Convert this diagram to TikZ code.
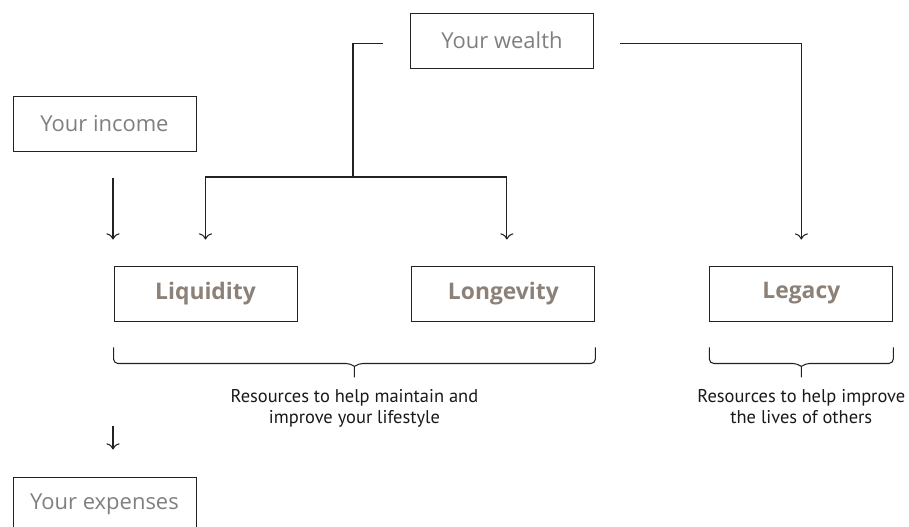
\documentclass[tikz,border=0pt]{standalone}
\usepackage{xcolor}
\usepackage{fontspec}
\usepackage{tikz}
\usetikzlibrary{arrows.meta, positioning, calc}
\newfontfamily\boxfont{Open Sans}
\newfontfamily\capfont{PT Sans}
\definecolor{labelgray}{HTML}{7F7F7F}
\definecolor{taupe}{HTML}{8C8178}
\definecolor{inkgray}{HTML}{222222}
\tikzstyle{plainbox} = [rectangle, minimum width=3.66cm, minimum height=1.1cm, inner sep=0pt, text centered, draw=inkgray, line width=0.55pt, font=\boxfont\fontsize{12.5}{14}\selectfont, text=labelgray]
\tikzstyle{keybox} = [plainbox, font=\boxfont\bfseries\fontsize{13}{15}\selectfont, text=taupe]
\tikzstyle{caption} = [align=center, inner sep=0pt, font=\capfont\fontsize{10.5}{11.5}\selectfont, text=black!90]
\tikzstyle{line} = [draw=inkgray, line width=0.6pt]
\tikzstyle{arrow} = [line, -{To[length=3.5pt, width=7.5pt]}]
\tikzstyle{bracket} = [line, rounded corners=2.5pt]

\begin{document}
\begin{tikzpicture}[x=0.02cm, y=-0.02cm]
            \useasboundingbox (0,0) rectangle (909,527);
            \clip (0,0) rectangle (909,527);

            \node[plainbox] (wealth) at (502,40.5) {Your wealth};
            \node[plainbox] (income) at (104.5,123.5) {Your income};

            \node[keybox] (liq) at (205.5,293.5) {Liquidity};
            \node[keybox, right=2.28cm of liq] (lon) {Longevity};
            \node[keybox, right=2.28cm of lon] (leg) {Legacy};

            \node[plainbox] (exp) at (104.5,504.5) {Your expenses};

            % wealth splits to the three pillars
            \coordinate (wl) at ($(wealth.west)+(-27,3)$);
            \coordinate (wr) at ($(wealth.east)+(26,3)$);
            \coordinate (split) at (353,177);
            \draw[line] (wl) -| (split);
            \draw[arrow, shorten >=0.52cm] (split) -| (liq.north);
            \draw[arrow, shorten >=0.52cm] (split) -| ([xshift=3.5*0.02cm]lon.north);
            \draw[arrow, shorten >=0.52cm] (wr) -| (leg.north);

            % income and expenses
            \coordinate (incout) at (113,178);
            \draw[arrow, shorten >=0.52cm] (incout) -- (incout |- liq.north);
            \coordinate (expin) at (113,426);
            \draw[arrow, shorten >=0.54cm] (expin) -- (expin |- exp.north);

            % brackets
            \coordinate (b1l) at ($(liq.south west)+(0,26)$);
            \coordinate (b1r) at ($(lon.south east)+(0,26)$);
            \coordinate (b1m) at ($(b1l)!0.5!(b1r)+(0,16)$);
            \draw[bracket] (b1l) |- ($(b1m)+(-4,0)$) [sharp corners] -- ($(b1m)+(0,3)$) -- ++(0,11);
            \draw[bracket] (b1r) |- ($(b1m)+(4,0)$) [sharp corners] -- ($(b1m)+(0,3)$);

            \coordinate (b2l) at ($(leg.south west)+(0,26)$);
            \coordinate (b2r) at ($(leg.south east)+(0,26)$);
            \coordinate (b2m) at ($(b2l)!0.5!(b2r)+(0,16)$);
            \draw[bracket] (b2l) |- ($(b2m)+(-4,0)$) [sharp corners] -- ($(b2m)+(0,3)$) -- ++(0,11);
            \draw[bracket] (b2r) |- ($(b2m)+(4,0)$) [sharp corners] -- ($(b2m)+(0,3)$);

            \node[caption, anchor=north] (capA) at ($(b1m)+(0,26)$) {Resources to help maintain and\\improve your lifestyle};
            \node[caption, anchor=north] (capB) at ($(b2m)+(0,26)$) {Resources to help improve\\the lives of others};
        \end{tikzpicture}
\end{document}
